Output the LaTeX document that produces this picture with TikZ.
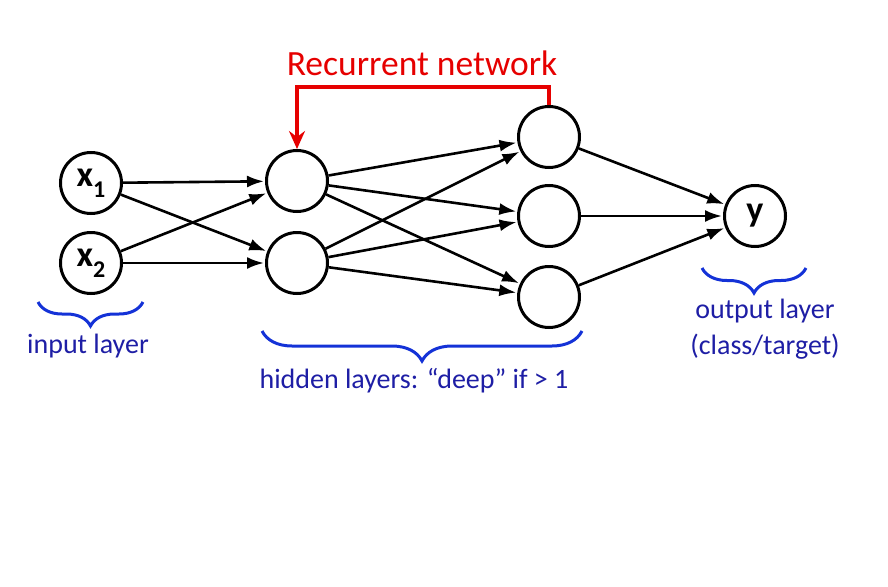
\documentclass[tikz,border=0pt]{standalone}
\usepackage{fontspec}
\setmainfont{Carlito}
\usetikzlibrary{positioning,arrows.meta,decorations.pathreplacing}
\definecolor{netred}{RGB}{230,0,0}
\definecolor{bracecol}{RGB}{20,50,215}
\definecolor{labelcol}{RGB}{30,30,165}
\tikzset{neuron/.style={circle,draw,line width=3pt,minimum size=61pt,inner sep=0pt,font=\fontsize{36}{36}\selectfont\bfseries}}
\tikzset{link/.style={-{Latex[length=17pt,width=12pt]},line width=2.6pt,shorten >=1pt}}
\tikzset{recur/.style={-{Stealth[length=18pt,width=16pt,inset=6pt]},line width=3.6pt,netred}}
\tikzset{layerbrace/.style={decorate,decoration={brace,amplitude=#1},line width=3pt,bracecol}}
\tikzset{layerlabel/.style={labelcol,font=\fontsize{28}{36}\selectfont,align=center}}
\newcommand{\nsub}[1]{\raisebox{-0.3em}{\fontsize{24}{24}\selectfont#1}}

\begin{document}
\begin{tikzpicture}[x=1pt,y=-1pt]
  \useasboundingbox (0,0) rectangle (888,586);
  % input layer
  \node[neuron] (x1) at (91,183) {x\nsub{1}};
  \node[neuron] (x2) at (91,263) {x\nsub{2}};
  % hidden layers
  \node[neuron] (h1) at (297,181) {};
  \node[neuron] (h2) at (297,263) {};
  \node[neuron] (g1) at (549,137) {};
  \node[neuron] (g2) at (549,216) {};
  \node[neuron] (g3) at (549,297) {};
  % output layer
  \node[neuron] (y) at (755,216) {y};
  % connections
  \foreach \a in {x1,x2}
    \foreach \b in {h1,h2}
      \draw[link] (\a) -- (\b);
  \foreach \a in {h1,h2}
    \foreach \b in {g1,g2,g3}
      \draw[link] (\a) -- (\b);
  \foreach \a in {g1,g2,g3}
    \draw[link] (\a) -- (y);
  % recurrent loop
  \draw[recur] (g1.north) -- ++(0,-18) -| (h1.north);
  \node[netred,font=\fontsize{35.5}{36}\selectfont] (rec) at (422,63) {Recurrent network};
  % braces and labels
  \draw[layerbrace=24pt] (143,302) -- (38,302);
  \draw[layerbrace=30pt] (582,331) -- (262,331);
  \draw[layerbrace=25pt] (806,268) -- (702,268);
  \node[layerlabel] (inlab) at (88,346) {input layer};
  \node[layerlabel] (hidlab) at (414,381) {hidden layers: “deep” if > 1};
  \node[layerlabel] (outlab) at (765,329) {output layer\\(class/target)};
\end{tikzpicture}
\end{document}
